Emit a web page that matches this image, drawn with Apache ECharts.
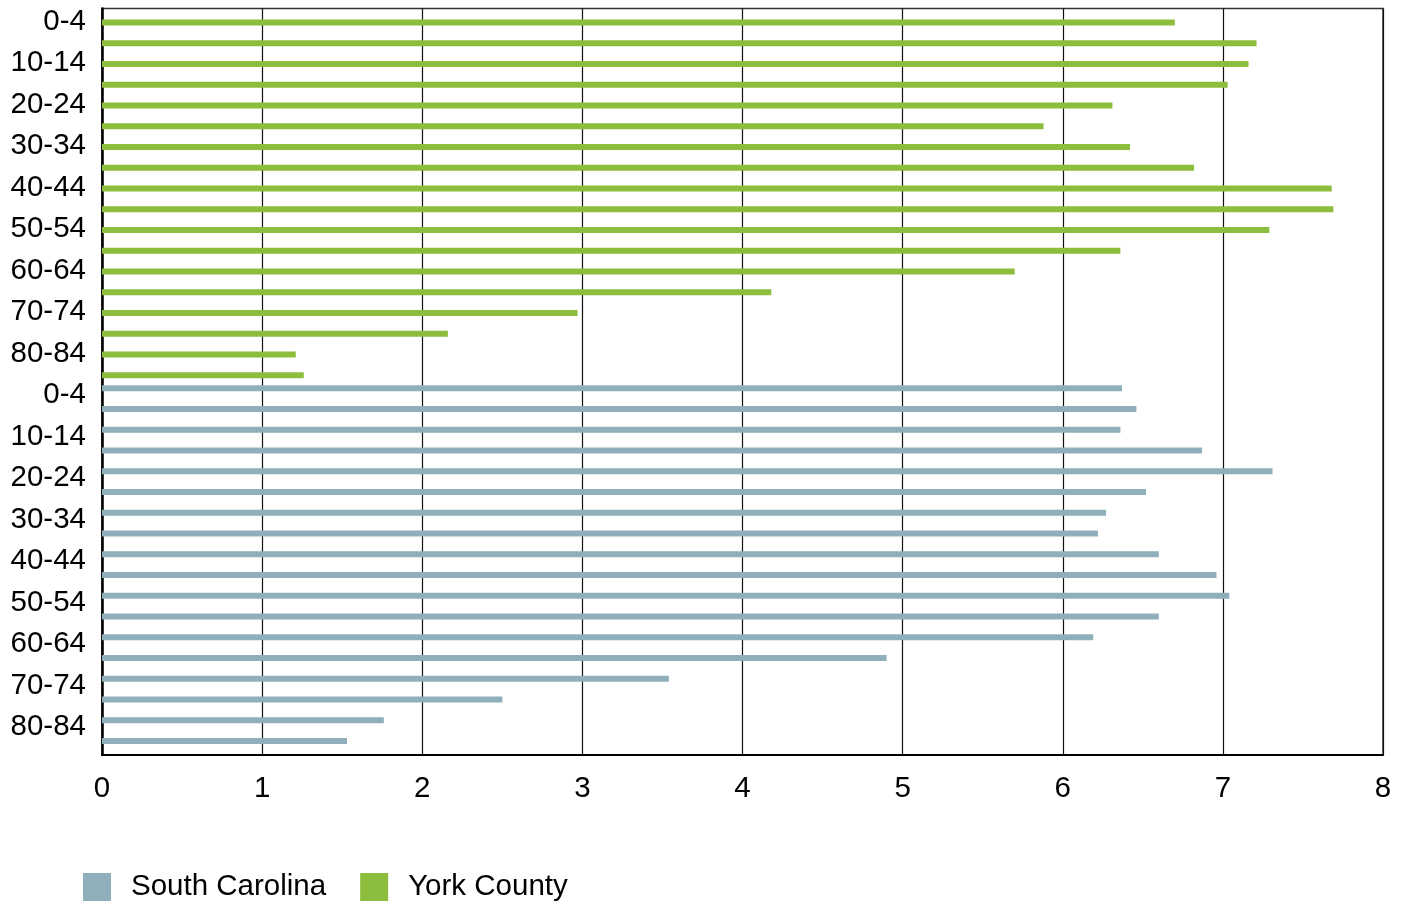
<!DOCTYPE html>
<html>
<head>
<meta charset="utf-8">
<script src="https://cdn.jsdelivr.net/npm/echarts@6/dist/echarts.min.js"></script>
<style>
html,body{margin:0;padding:0;background:#fff;}
#chart{width:1406px;height:905px;}
</style>
</head>
<body>
<div id="chart"></div>
<script>
const ageGroups = ["0-4","5-9","10-14","15-19","20-24","25-29","30-34","35-39","40-44","45-49","50-54","55-59","60-64","65-69","70-74","75-79","80-84","85+"];
const yorkCounty = [6.70,7.21,7.16,7.03,6.31,5.88,6.42,6.82,7.68,7.69,7.29,6.36,5.70,4.18,2.97,2.16,1.21,1.26];
const southCarolina = [6.37,6.46,6.36,6.87,7.31,6.52,6.27,6.22,6.60,6.96,7.04,6.60,6.19,4.90,3.54,2.50,1.76,1.53];
const xTicks = [0,1,2,3,4,5,6,7,8];

const FONT = "'Liberation Sans', Arial, sans-serif";
const categories = ageGroups.concat(ageGroups);
const yorkData = yorkCounty.concat(ageGroups.map(() => null));
const scData = ageGroups.map(() => null).concat(southCarolina);

const chart = echarts.init(document.getElementById('chart'), null, {renderer: 'canvas'});
chart.setOption({
  animation: false,
  backgroundColor: '#fff',
  textStyle: {fontFamily: FONT},
  grid: {
    left: 102, right: 23, top: 8.5, bottom: 150,
    show: true, borderColor: '#333', borderWidth: 1.5, containLabel: false
  },
  legend: {
    left: 83, top: 872, padding: 0,
    itemWidth: 28, itemHeight: 28, itemGap: 34,
    icon: 'rect',
    data: ['South Carolina', 'York County'],
    textStyle: {fontFamily: FONT, fontSize: 29.5, color: '#000', padding: [0,0,0,15]}
  },
  xAxis: {
    type: 'value',
    min: xTicks[0], max: xTicks[xTicks.length - 1], interval: 1,
    axisLine: {show: true, lineStyle: {color: '#000', width: 2}},
    axisTick: {show: false},
    splitLine: {show: true, lineStyle: {color: '#111', width: 1.2}},
    axisLabel: {fontFamily: FONT, fontSize: 29.5, color: '#000', margin: 19}
  },
  yAxis: {
    type: 'category',
    inverse: true,
    data: categories,
    axisLine: {show: true, lineStyle: {color: '#000', width: 2.5}},
    axisTick: {show: false},
    splitLine: {show: false},
    axisLabel: {
      fontFamily: FONT, fontSize: 29.5, color: '#000', margin: 16, interval: 1,
      formatter: function (v) { return '{a|' + v + '}'; },
      rich: {a: {fontFamily: FONT, fontSize: 29.5, color: '#000', padding: [6, 0, 0, 0]}}
    }
  },
  series: [
    {
      name: 'South Carolina', type: 'bar', data: scData,
      barWidth: 6, barGap: '25%',
      itemStyle: {color: '#8fafba'}
    },
    {
      name: 'York County', type: 'bar', data: yorkData,
      barWidth: 6, barGap: '25%',
      itemStyle: {color: '#8dbd3d'}
    }
  ]
});
</script>
</body>
</html>
